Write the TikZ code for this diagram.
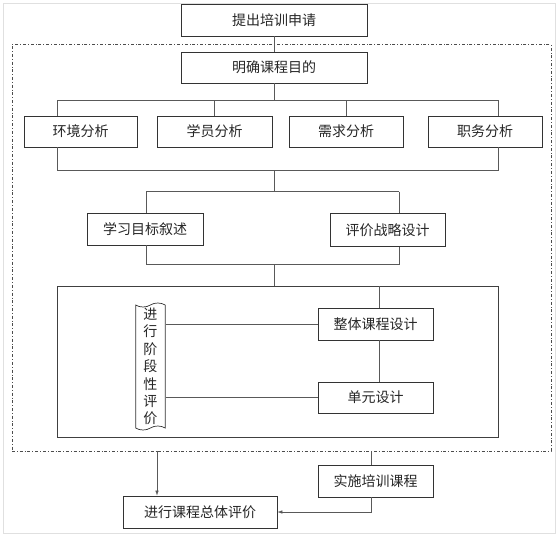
\documentclass[tikz,border=0pt]{standalone}
\usepackage{fontspec}
\setmainfont{Noto Sans CJK SC}
\usetikzlibrary{arrows.meta,shapes,shapes.symbols,positioning,calc}

\begin{document}
\begin{tikzpicture}[
                x=1pt, y=-1pt,
                box/.style={draw=black!80, line width=0.7pt, fill=white, minimum height=32pt, inner sep=0pt, text=black!85, font=\fontsize{14}{16}\selectfont},
                tapebox/.style={tape, draw=black!80, line width=0.7pt, fill=white, inner sep=0pt, tape bend height=4pt, align=center, text=black!85, font=\fontsize{14}{17.4}\selectfont},
                frm/.style={draw=black!75, line width=0.7pt, inner sep=0pt},
                wire/.style={draw=black!65, line width=0.6pt},
                arr/.style={wire, -{Latex[length=5pt,width=3.5pt]}}
            ]

\useasboundingbox (0,0) rectangle (559,536);
\draw[black!12] (3,3) rectangle (555,533);

% frames
                \node[frm, dash dot, draw=black!70, minimum width=539pt, minimum height=406.5pt] (outline) at (281.5,247.75) {};
                \node[frm, minimum width=441pt, minimum height=151pt] (frame) at (277.5,361.5) {};

% junctions
                \coordinate (j1) at (57,100);
                \coordinate (j2) at (498,100);
                \coordinate (j3) at (57,170);
                \coordinate (j4) at (498,170);
                \coordinate (j5) at (146,191.5);
                \coordinate (j6) at (399,191.5);
                \coordinate (j7) at (146,264);
                \coordinate (j8) at (399,264);
                \coordinate (j9) at (274.5,264);
                \coordinate (j10) at (379,286);
                \coordinate (j11) at (371,451);
                \coordinate (j12) at (157,451);

% boxes
                \node[box, minimum width=186pt] (apply) at (274,20) {提出培训申请};
                \node[box, minimum width=186pt, minimum height=31pt] (goal) at (274,67.5) {明确课程目的};

                \node[box, minimum width=113pt, minimum height=31pt] (env) at (80.5,131.5) {环境分析};
                \node[box, minimum width=115pt, minimum height=31pt] (learner) at (214.5,131.5) {学员分析};
                \node[box, minimum width=114pt, minimum height=31pt] (need) at (346,131.5) {需求分析};
                \node[box, minimum width=114pt, minimum height=31pt] (duty) at (485,131.5) {职务分析};

                \node[box, minimum width=116pt] (aim) at (145,229) {学习目标叙述};
                \node[box, minimum width=115pt, minimum height=33pt] (eval) at (387.5,230) {评价战略设计};

                \node[tapebox, minimum width=29.5pt, minimum height=127pt] (stage) at (150.4,366.5) {进\\行\\阶\\段\\性\\评\\价};
                \node[box, minimum width=115pt] (whole) at (375.5,324) {整体课程设计};
                \node[box, minimum width=115pt, minimum height=31pt] (unit) at (375.5,397.5) {单元设计};

                \node[box, minimum width=115pt] (implement) at (375.5,481) {实施培训课程};
                \node[box, minimum width=154pt] (overall) at (200,512) {进行课程总体评价};

% edges
                \draw[wire] (apply) -- (goal);
                \draw[wire] (goal) -- (goal |- j1);
                \draw[wire] (j1) -- (j2);
                \draw[wire] (j1) -- (j1 |- env.north);
                \draw[wire] (learner |- j1) -- (learner);
                \draw[wire] (need |- j1) -- (need);
                \draw[wire] (j2) -- (j2 |- duty.north);
                \draw[wire] (j1 |- env.south) -- (j3) -- (j4) -- (j2 |- duty.south);

                \draw[wire] (goal |- j3) -- (goal |- j5);
                \draw[wire] (j5) -- (j6);
                \draw[wire] (j5) -- (j5 |- aim.north);
                \draw[wire] (j6) -- (j6 |- eval.north);
                \draw[wire] (j5 |- aim.south) -- (j7) -- (j8) -- (j6 |- eval.south);
                \draw[wire] (j9) -- (j9 |- frame.north);

                \draw[wire] (j10) -- (j10 |- whole.north);
                \draw[wire] (j10 |- whole.south) -- (j10 |- unit.north);
                \draw[wire] (stage.east |- whole) -- (whole);
                \draw[wire] (stage.east |- unit) -- (unit);

                \draw[wire] (j11) -- (j11 |- implement.north);
                \draw[arr] (j12) -- (j12 |- overall.north);
                \draw[arr] (j11 |- implement.south) |- (overall.east);

            \end{tikzpicture}
\end{document}
